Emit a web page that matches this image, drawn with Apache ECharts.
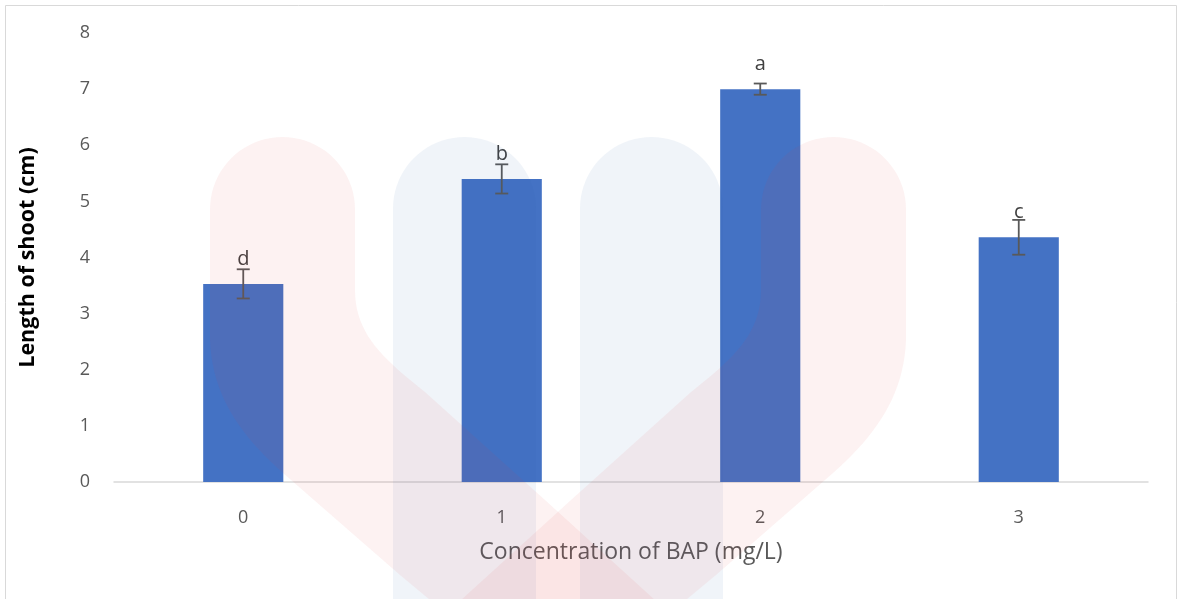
<!DOCTYPE html>
<html>
<head>
<meta charset="utf-8">
<title>Length of shoot vs BAP concentration</title>
<script src="https://cdn.jsdelivr.net/npm/echarts@6/dist/echarts.min.js"></script>
<style>
  html, body { margin: 0; padding: 0; background: #ffffff; }
  #chart { width: 1178px; height: 599px; }
</style>
</head>
<body>
<div id="chart"></div>
<script>
// BAP concentration (mg/L) on the x axis
const categories = ['0', '1', '2', '3'];
// Mean shoot length (cm)
const shootLength = [3.53, 5.40, 7.00, 4.36];
// Error bar half-widths (cm)
const errorSize = [0.26, 0.26, 0.10, 0.31];
// Significance letters shown above each bar
const groupLetters = ['d', 'b', 'a', 'c'];
// Value axis range
const yMin = 0, yMax = 8, yStep = 1;

const FONT = '"Open Sans", "Noto Sans", sans-serif';
const TEXT_GREY = '#595959';

const chart = echarts.init(document.getElementById('chart'), null, { renderer: 'canvas' });

// ---- faint emblem: two blue columns and two red arches crossing below ----
function arcPoints(cx, cy, r, a0, a1, n) {
  const pts = [];
  for (let k = 0; k <= n; k++) {
    const a = a0 + (a1 - a0) * k / n;
    pts.push([cx + r * Math.cos(a), cy + r * Math.sin(a)]);
  }
  return pts;
}
function bezierPoints(p0, p1, p2, p3, n) {
  const pts = [];
  for (let k = 0; k <= n; k++) {
    const t = k / n, u = 1 - t;
    pts.push([
      u * u * u * p0[0] + 3 * u * u * t * p1[0] + 3 * u * t * t * p2[0] + t * t * t * p3[0],
      u * u * u * p0[1] + 3 * u * u * t * p1[1] + 3 * u * t * t * p2[1] + t * t * t * p3[1]
    ]);
  }
  return pts;
}
function columnShape(x0, x1, top, bottom) {
  const r = (x1 - x0) / 2;
  return [[x0, bottom]].concat(arcPoints(x0 + r, top + r, r, Math.PI, 2 * Math.PI, 40), [[x1, bottom]]);
}
function leftArchShape() {
  const r = 72.5, cx = 282.5, cy = 209.5;
  let pts = arcPoints(cx, cy, r, Math.PI, 2 * Math.PI, 40);
  pts = pts.concat([[355, 290]]);
  pts = pts.concat(bezierPoints([355, 290], [355, 335], [385, 360], [425, 392], 20));
  pts = pts.concat([[545, 500], [655, 600], [430, 600], [400, 575], [283, 473]]);
  pts = pts.concat(bezierPoints([283, 473], [240, 435], [212, 395], [210, 340], 20));
  return pts;
}
function mirror(pts, axis) {
  return pts.map(p => [2 * axis - p[0], p[1]]);
}
const redFill = { fill: '#e53935', opacity: 0.065 };
const blueFill = { fill: '#2a6aa8', opacity: 0.07 };
const EMBLEM_Z = 50;
const emblem = [
  { type: 'polygon', z: EMBLEM_Z, silent: true, shape: { points: columnShape(393, 536, 137, 600) }, style: blueFill },
  { type: 'polygon', z: EMBLEM_Z, silent: true, shape: { points: columnShape(580, 723, 137, 600) }, style: blueFill },
  { type: 'polygon', z: EMBLEM_Z, silent: true, shape: { points: leftArchShape() }, style: redFill },
  { type: 'polygon', z: EMBLEM_Z, silent: true, shape: { points: mirror(leftArchShape(), 558) }, style: redFill }
];

const option = {
  animation: false,
  backgroundColor: '#ffffff',
  textStyle: { fontFamily: FONT },
  grid: { left: 114, right: 30, top: 33, bottom: 117, containLabel: false },
  xAxis: {
    type: 'category',
    data: categories,
    name: 'Concentration of BAP (mg/L)',
    nameLocation: 'middle',
    nameGap: 59,
    nameTextStyle: { fontSize: 23, color: TEXT_GREY, fontFamily: FONT },
    axisLine: { show: true, lineStyle: { color: '#d9d9d9', width: 1.5 } },
    axisTick: { show: false },
    axisLabel: { fontSize: 18, color: TEXT_GREY, margin: 27, fontFamily: FONT }
  },
  yAxis: {
    type: 'value',
    min: yMin, max: yMax, interval: yStep,
    name: 'Length of shoot (cm)',
    nameLocation: 'middle',
    nameGap: 75,
    nameTextStyle: { fontSize: 21.5, fontWeight: 'bold', color: '#000000', fontFamily: FONT },
    axisLine: { show: false },
    axisTick: { show: false },
    splitLine: { show: false },
    axisLabel: { fontSize: 18, color: TEXT_GREY, margin: 24, fontFamily: FONT }
  },
  series: [
    {
      type: 'bar',
      data: shootLength,
      barWidth: '31%',
      itemStyle: { color: '#4472c4' },
      silent: true
    },
    {
      type: 'custom',
      silent: true,
      z: 5,
      data: shootLength.map((v, i) => [i, v, errorSize[i]]),
      renderItem: function (params, api) {
        const i = api.value(0);
        const v = api.value(1);
        const e = api.value(2);
        const barTop = api.coord([i, v]);
        const top = api.coord([i, v + e]);
        const bot = api.coord([i, v - e]);
        const cap = 6.5;
        const stroke = { stroke: '#595959', lineWidth: 1.8 };
        return {
          type: 'group',
          children: [
            { type: 'line', shape: { x1: top[0], y1: top[1], x2: bot[0], y2: bot[1] }, style: stroke },
            { type: 'line', shape: { x1: top[0] - cap, y1: top[1], x2: top[0] + cap, y2: top[1] }, style: stroke },
            { type: 'line', shape: { x1: bot[0] - cap, y1: bot[1], x2: bot[0] + cap, y2: bot[1] }, style: stroke },
            {
              // letter label sits a fixed distance above the bar top
              type: 'text',
              style: {
                text: groupLetters[params.dataIndex],
                x: barTop[0], y: barTop[1] - 25,
                align: 'center', verticalAlign: 'middle',
                fontSize: 20, fill: '#404040', fontFamily: FONT
              }
            }
          ]
        };
      }
    }
  ],
  graphic: [
    {
      type: 'rect', silent: true, z: 0,
      shape: { x: 5.5, y: 5.5, width: 1171, height: 600 },
      style: { fill: 'none', stroke: '#d9d9d9', lineWidth: 1 }
    }
  ].concat(emblem)
};

chart.setOption(option);
</script>
</body>
</html>
